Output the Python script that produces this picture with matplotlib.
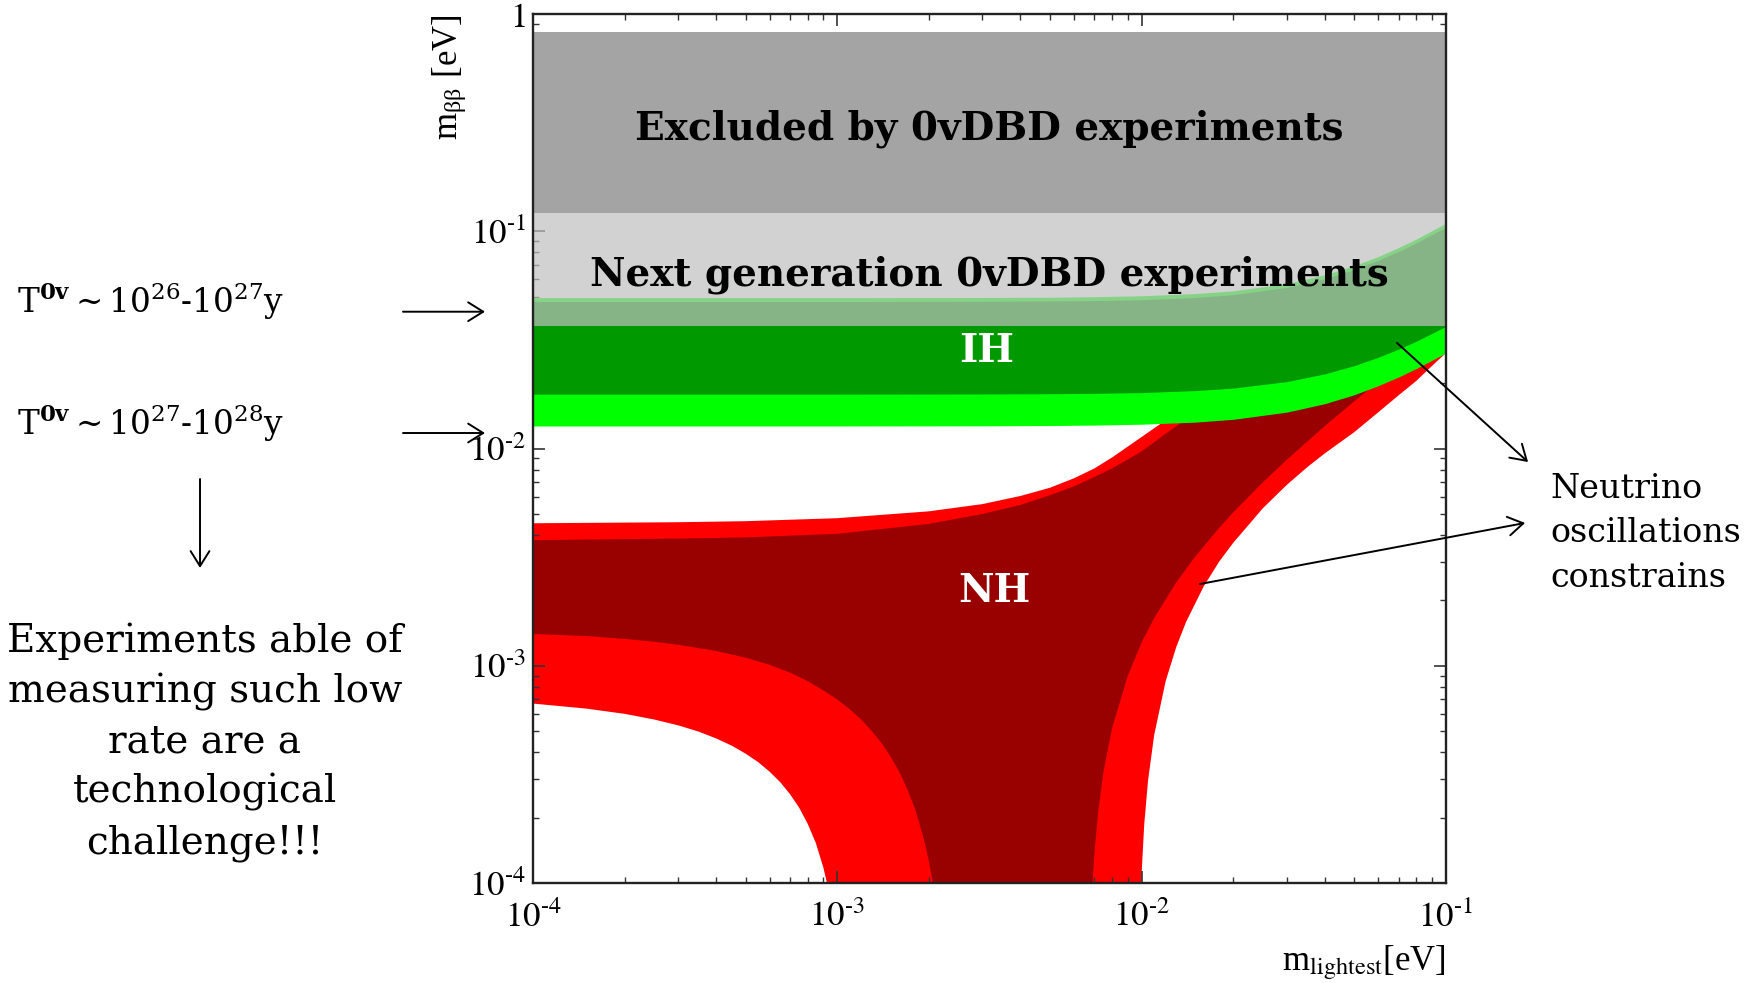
import numpy as np
import matplotlib.pyplot as plt
from matplotlib.ticker import NullFormatter

plt.rcParams['font.family'] = 'Liberation Serif'
plt.rcParams['mathtext.fontset'] = 'stix'

# Inverted hierarchy: m_bb bounds [eV] vs lightest mass [eV]
ih_x = np.array([1e-4, 1e-3, 3e-3, 5e-3, 7e-3, 0.01, 0.015, 0.02, 0.03, 0.04,
                 0.05, 0.06, 0.07, 0.08, 0.1])
ih_top_3s = np.array([0.0495, 0.0495, 0.0496, 0.0497, 0.0500, 0.0505, 0.0517, 0.0532,
                      0.0575, 0.0631, 0.0695, 0.0766, 0.0842, 0.0922, 0.1089])
ih_top_bf = np.array([0.0475, 0.0475, 0.0476, 0.0478, 0.0480, 0.0484, 0.0496, 0.0511,
                      0.0552, 0.0605, 0.0667, 0.0736, 0.0808, 0.0885, 0.1045])
ih_bot_bf = np.array([0.0178, 0.0178, 0.01783, 0.01788, 0.01795, 0.0181, 0.01848, 0.01897,
                      0.02033, 0.02207, 0.02408, 0.02633, 0.02871, 0.03122, 0.0365])
ih_bot_3s = np.array([0.0127, 0.0127, 0.01272, 0.01276, 0.01282, 0.01294, 0.01323, 0.01363,
                      0.01471, 0.01609, 0.01769, 0.01948, 0.02137, 0.02337, 0.02756])

# Normal hierarchy: upper edges
nh_x_top = np.array([1e-4, 3e-4, 5e-4, 1e-3, 2e-3, 3e-3, 4e-3, 5e-3, 6e-3, 7e-3,
                     8e-3, 9e-3, 0.01, 0.012, 0.015, 0.02, 0.03, 0.05, 0.07, 0.1])
nh_max_3s = np.array([0.00453, 0.00458, 0.00463, 0.00478, 0.00514, 0.00555, 0.00605, 0.0066,
                      0.0073, 0.0081, 0.0091, 0.0102, 0.0113, 0.0135, 0.0167, 0.022,
                      0.032, 0.052, 0.072, 0.102])
nh_max_bf = np.array([0.00379, 0.00385, 0.0039, 0.00405, 0.0045, 0.0050, 0.0055, 0.0061,
                      0.0067, 0.0074, 0.0081, 0.0089, 0.0097, 0.0117, 0.0146, 0.0195,
                      0.0292, 0.049, 0.069, 0.099])

# Normal hierarchy: lower edges (left and right of the cancellation funnel)
nh_min3_lx = np.array([1e-4, 1.5e-4, 2e-4, 2.5e-4, 3e-4, 3.5e-4, 4e-4, 4.5e-4, 5e-4, 5.5e-4,
                       6e-4, 6.5e-4, 7e-4, 7.5e-4, 8e-4, 8.5e-4, 9e-4, 9.3e-4, 9.6e-4,
                       1.0e-3, 1.05e-3])
nh_min3_ly = np.array([6.70e-4, 6.35e-4, 6.01e-4, 5.66e-4, 5.32e-4, 4.98e-4, 4.63e-4,
                       4.29e-4, 3.94e-4, 3.60e-4, 3.25e-4, 2.91e-4, 2.56e-4, 2.22e-4,
                       1.87e-4, 1.53e-4, 1.18e-4, 0.97e-4, 0.77e-4, 0.49e-4, 1e-6])
nh_min3_rx = np.array([0.0097, 0.0100, 0.0102, 0.0105, 0.011, 0.012, 0.013, 0.014, 0.016,
                       0.018, 0.02, 0.025, 0.03, 0.035, 0.04, 0.05, 0.06, 0.07, 0.08,
                       0.09, 0.1])
nh_min3_ry = np.array([1e-6, 1.1e-4, 1.85e-4, 2.96e-4, 4.8e-4, 8.5e-4, 1.22e-3, 1.59e-3,
                       2.32e-3, 3.02e-3, 3.68e-3, 5.3e-3, 6.8e-3, 8.2e-3, 9.5e-3, 1.19e-2,
                       1.47e-2, 1.76e-2, 2.05e-2, 2.4e-2, 2.75e-2])
nh_minbf_lx = np.array([1e-4, 1.5e-4, 2e-4, 2.5e-4, 3e-4, 4e-4, 5e-4, 6e-4, 7e-4, 8e-4,
                        9e-4, 1e-3, 1.1e-3, 1.2e-3, 1.3e-3, 1.4e-3, 1.5e-3, 1.6e-3, 1.7e-3,
                        1.8e-3, 1.9e-3, 1.95e-3, 2.0e-3, 2.05e-3, 2.1e-3, 2.15e-3, 2.3e-3])
nh_minbf_ly = np.array([1.40e-3, 1.37e-3, 1.33e-3, 1.29e-3, 1.25e-3, 1.17e-3, 1.09e-3,
                        1.01e-3, 0.93e-3, 0.85e-3, 0.77e-3, 0.70e-3, 0.63e-3, 0.565e-3,
                        0.50e-3, 0.44e-3, 0.38e-3, 0.325e-3, 0.27e-3, 0.22e-3, 0.17e-3,
                        0.148e-3, 0.126e-3, 0.105e-3, 0.085e-3, 0.065e-3, 1e-6])
nh_minbf_rx = np.array([6.6e-3, 6.9e-3, 7.0e-3, 7.2e-3, 7.5e-3, 8e-3, 9e-3, 0.01, 0.011,
                        0.013, 0.015, 0.018, 0.02, 0.025, 0.03, 0.04, 0.05, 0.06, 0.07,
                        0.08, 0.1])
nh_minbf_ry = np.array([1e-6, 1.0e-4, 1.37e-4, 2.13e-4, 3.27e-4, 5.17e-4, 8.97e-4, 1.28e-3,
                        1.66e-3, 2.42e-3, 3.18e-3, 4.32e-3, 5.08e-3, 6.98e-3, 8.88e-3,
                        1.27e-2, 1.65e-2, 2.03e-2, 2.41e-2, 2.79e-2, 3.55e-2])

# experimental sensitivity bands in m_bb [eV]
next_gen = [0.0366, 0.121]
excluded = [0.121, 0.83]

x_ticks = [1e-4, 1e-3, 1e-2, 1e-1]
x_tick_labels = [r'$10^{\text{-}4}$', r'$10^{\text{-}3}$', r'$10^{\text{-}2}$', r'$10^{\text{-}1}$']
y_ticks = [1e-4, 1e-3, 1e-2, 1e-1, 1]
y_tick_labels = [r'$10^{\text{-}4}$', r'$10^{\text{-}3}$', r'$10^{\text{-}2}$', r'$10^{\text{-}1}$', r'$1$']


def nh_region(ax, x_top, y_top, x_r, y_r, x_l, y_l, color, z):
    xs = np.concatenate([x_top, x_r[::-1], x_l[::-1]])
    ys = np.concatenate([y_top, y_r[::-1], y_l[::-1]])
    ax.fill(xs, ys, color=color, lw=0, zorder=z)


fig = plt.figure(figsize=(17.56, 9.83), dpi=100)
ax = fig.add_axes([0.3035, 0.1017, 0.5199, 0.884])
ax.set_xscale('log')
ax.set_yscale('log')

nh_region(ax, nh_x_top, nh_max_3s, nh_min3_rx, nh_min3_ry, nh_min3_lx, nh_min3_ly, '#ff0000', 1)
nh_region(ax, nh_x_top, nh_max_bf, nh_minbf_rx, nh_minbf_ry, nh_minbf_lx, nh_minbf_ly, '#990000', 2)
ax.fill_between(ih_x, ih_bot_3s, ih_top_3s, color='#00ff00', lw=0, zorder=3)
ax.fill_between(ih_x, ih_bot_bf, ih_top_bf, color='#009900', lw=0, zorder=4)
ax.axhspan(next_gen[0], next_gen[1], color='#c0c0c0', alpha=0.7, lw=0, zorder=5)
ax.axhspan(excluded[0], excluded[1], color='#a4a4a4', lw=0, zorder=6)

ax.set_xlim(1e-4, 1e-1)
ax.set_ylim(1e-4, 1)
ax.set_xticks(x_ticks, x_tick_labels)
ax.set_yticks(y_ticks, y_tick_labels)
ax.xaxis.set_minor_formatter(NullFormatter())
ax.yaxis.set_minor_formatter(NullFormatter())
ax.tick_params(which='both', direction='in', top=True, right=True, colors='#333333',
               labelcolor='black', labelsize=25)
ax.tick_params(which='major', length=8.6, width=1.2)
ax.tick_params(which='minor', length=4.3, width=1.0)
ax.tick_params(axis='x', which='major', pad=13)
ax.tick_params(axis='y', which='major', pad=5)
for s in ax.spines.values():
    s.set_linewidth(1.7)
    s.set_color('#222222')
    s.set_zorder(10)

ax.text(-0.091, 1.0, r'm$_{\mathregular{ββ}}$ [eV]', rotation=90, ha='center', va='top',
        transform=ax.transAxes, fontsize=25)
ax.text(1.0, -0.100, r'm$_{\mathrm{lightest}}$[eV]', ha='right', va='baseline',
        transform=ax.transAxes, fontsize=25)

bold = dict(family='DejaVu Serif', fontweight='bold', fontsize=28, ha='center',
            va='baseline', transform=ax.transAxes, zorder=8)
ax.text(0.5, 0.8558, 'Excluded by 0vDBD experiments', **bold)
ax.text(0.5, 0.688, 'Next generation 0vDBD experiments', **bold)
ax.text(0.497, 0.600, 'IH', color='white', **bold)
ax.text(0.5057, 0.3237, 'NH', color='white', **bold)

# side notes (multi-line blocks are anchored on the last baseline)
note = dict(family='DejaVu Serif', math_fontfamily='dejavuserif', va='baseline')
fig.text(0.00968, 0.6816, r'T$^{\mathbf{0v}}\sim 10^{26}$-$10^{27}$y', fontsize=23.5, **note)
fig.text(0.00968, 0.5575, r'T$^{\mathbf{0v}}\sim 10^{27}$-$10^{28}$y', fontsize=23.5, **note)
fig.text(0.1167, 0.1322, 'Experiments able of\nmeasuring such low\nrate are a\ntechnological\nchallenge!!!',
         ha='center', multialignment='center', fontsize=28, linespacing=1.44, **note)
fig.text(0.8827, 0.4032, 'Neutrino\noscillations\nconstrains', ha='left', fontsize=24,
         linespacing=1.5, **note)

arrow = dict(arrowstyle='->,head_length=0.4,head_width=0.25', lw=1.4, color='black',
             mutation_scale=27, shrinkA=0, shrinkB=0)
for (x0, y0), (x1, y1) in [((0.2295, 0.6829), (0.2762, 0.6829)),
                           ((0.2295, 0.5595), (0.2762, 0.5595)),
                           ((0.1139, 0.5127), (0.1139, 0.4222)),
                           ((0.7956, 0.6511), (0.8702, 0.5300)),
                           ((0.6834, 0.4059), (0.8685, 0.4680))]:
    ax.annotate('', xy=(x1, y1), xytext=(x0, y0), xycoords='figure fraction',
                textcoords='figure fraction', arrowprops=arrow, annotation_clip=False,
                zorder=12)

fig.savefig('out.png', dpi=100)
